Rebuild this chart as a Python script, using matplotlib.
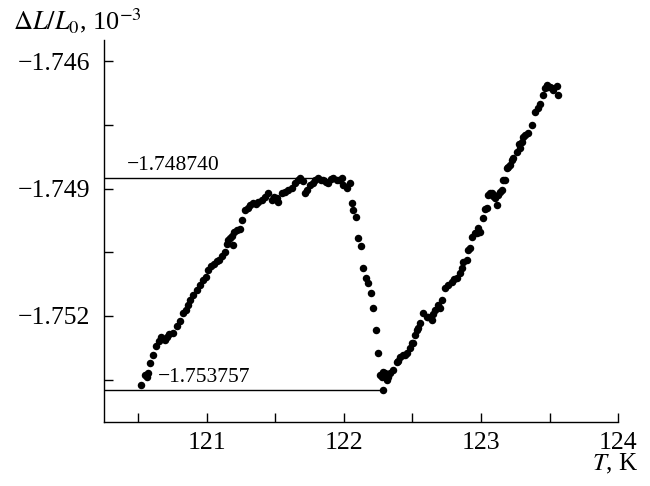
import matplotlib
matplotlib.use("Agg")
import matplotlib.pyplot as plt
from matplotlib.ticker import MultipleLocator, FuncFormatter

plt.rcParams['font.family'] = ['Liberation Serif', 'DejaVu Serif']
plt.rcParams['mathtext.fontset'] = 'stix'

# Temperature, K
T = [120.523, 120.547, 120.560, 120.569, 120.584, 120.604, 120.628, 120.652, 120.669, 120.693,
     120.706, 120.723, 120.750, 120.779, 120.803, 120.827, 120.847, 120.864, 120.876, 120.900,
     120.925, 120.949, 120.973, 120.993, 121.009, 121.034, 121.051, 121.071, 121.088, 121.107,
     121.131, 121.146, 121.153, 121.168, 121.180, 121.190, 121.197, 121.217, 121.241, 121.253,
     121.277, 121.299, 121.314, 121.336, 121.358, 121.372, 121.399, 121.423, 121.445, 121.472,
     121.489, 121.509, 121.518, 121.545, 121.569, 121.591, 121.618, 121.642, 121.664, 121.679,
     121.701, 121.715, 121.728, 121.752, 121.774, 121.788, 121.810, 121.832, 121.847, 121.869,
     121.883, 121.905, 121.920, 121.947, 121.964, 121.983, 121.993, 122.020, 122.044,
     122.056, 122.068, 122.088, 122.104, 122.122, 122.141, 122.161, 122.177, 122.195, 122.214,
     122.231, 122.246, 122.263, 122.282,
     122.275, 122.288, 122.299, 122.312, 122.321, 122.336, 122.360, 122.385, 122.396, 122.409,
     122.431, 122.445, 122.460, 122.482, 122.494, 122.506, 122.518, 122.531, 122.542, 122.555,
     122.579, 122.604, 122.615, 122.640, 122.650, 122.664, 122.688, 122.701, 122.715, 122.737,
     122.761, 122.786, 122.803, 122.823, 122.847, 122.859, 122.871, 122.896, 122.907, 122.920,
     122.932, 122.956, 122.969, 122.980, 122.993, 123.017, 123.029, 123.042, 123.053, 123.066,
     123.078, 123.088, 123.102, 123.115, 123.124, 123.139, 123.151, 123.163, 123.175, 123.188,
     123.197, 123.212, 123.224, 123.236, 123.261, 123.277, 123.285, 123.297, 123.307, 123.321,
     123.345, 123.370, 123.394, 123.418, 123.431, 123.455, 123.467, 123.480, 123.489, 123.504,
     123.516, 123.528, 123.553, 123.564]

# Relative elongation dL/L0, 10^-3
dL = [-1.75364, -1.75339, -1.75344, -1.75334, -1.75310, -1.75292, -1.75272, -1.75260, -1.75249, -1.75256,
      -1.75249, -1.75242, -1.75241, -1.75225, -1.75213, -1.75193, -1.75186, -1.75174, -1.75162, -1.75151,
      -1.75139, -1.75127, -1.75115, -1.75108, -1.75092, -1.75082, -1.75078, -1.75071, -1.75068, -1.75059,
      -1.75049, -1.75031, -1.75021, -1.75016, -1.75012, -1.75033, -1.75002, -1.74998, -1.74995, -1.74974,
      -1.74951, -1.74946, -1.74939, -1.74934, -1.74936, -1.74931, -1.74927, -1.74919, -1.74911, -1.74927,
      -1.74920, -1.74922, -1.74931, -1.74911, -1.74908, -1.74904, -1.74899, -1.74887, -1.74880, -1.74874,
      -1.74882, -1.74911, -1.74904, -1.74892, -1.74887, -1.74880, -1.74874, -1.74880, -1.74880, -1.74885,
      -1.74887, -1.74878, -1.74874, -1.74880, -1.74880, -1.74875, -1.74892, -1.74899, -1.74887,
      -1.74935, -1.74951, -1.74966, -1.75016, -1.75035, -1.75088, -1.75111, -1.75123, -1.75145, -1.75182,
      -1.75233, -1.75288, -1.75339, -1.753757,
      -1.75343, -1.75332, -1.75334, -1.75351, -1.75343, -1.75335, -1.75327, -1.75308, -1.75306, -1.75296,
      -1.75292, -1.75292, -1.75287, -1.75275, -1.75264, -1.75264, -1.75245, -1.75233, -1.75229, -1.75217,
      -1.75194, -1.75202, -1.75202, -1.75209, -1.75195, -1.75186, -1.75174, -1.75182, -1.75162, -1.75135,
      -1.75127, -1.75119, -1.75113, -1.75111, -1.75100, -1.75088, -1.75073, -1.75068, -1.75045, -1.75041,
      -1.75013, -1.75005, -1.75005, -1.74994, -1.75002, -1.74969, -1.74947, -1.74946, -1.74915, -1.74911,
      -1.74911, -1.74918, -1.74923, -1.74939, -1.74915, -1.74908, -1.74904, -1.74880, -1.74880, -1.74852,
      -1.74849, -1.74845, -1.74833, -1.74829, -1.74814, -1.74795, -1.74805, -1.74790, -1.74778, -1.74774,
      -1.74770, -1.74751, -1.74719, -1.74711, -1.74701, -1.74680, -1.74664, -1.74656, -1.74661, -1.74660,
      -1.74664, -1.74668, -1.74659, -1.74680]

ref_max = -1.748740
ref_min = -1.753757
ref_labels = ["\u22121.748740", "\u22121.753757"]

x_ticks_labeled = [121, 122, 123, 124]
y_ticks_labeled = [-1.746, -1.749, -1.752]

fig = plt.figure(figsize=(6.5, 4.86), dpi=100)
ax = fig.add_axes([0.16, 0.1317, 0.791, 0.786])

xmin, xmax = 120.25, 124.0
ax.set_xlim(xmin, xmax)
ax.set_ylim(-1.7545, -1.7455)

# reference lines from the axis to the extremum points
i_max = 59
i_min = dL.index(ref_min)
ax.plot([xmin, T[i_max] + 0.19], [ref_max, ref_max], color='black', lw=1.0, zorder=2)
ax.plot([xmin, T[i_min]], [ref_min, ref_min], color='black', lw=1.0, zorder=2)

ax.plot(T, dL, 'o', color='black', ms=5.4, mec='none', zorder=3)

ax.text(120.415, ref_max + 0.00007, ref_labels[0], fontsize=15.5, ha='left', va='bottom')
ax.text(120.64, ref_min + 0.00007, ref_labels[1], fontsize=15.5, ha='left', va='bottom')

for s in ['top', 'right']:
    ax.spines[s].set_visible(False)
for s in ['left', 'bottom']:
    ax.spines[s].set_linewidth(1.0)

ax.xaxis.set_major_locator(MultipleLocator(0.5))
ax.yaxis.set_major_locator(MultipleLocator(0.0015))

def xfmt(v, pos):
    r = round(v)
    return f"{r:d}" if abs(v - r) < 1e-6 and r in x_ticks_labeled else ""

def yfmt(v, pos):
    for t in y_ticks_labeled:
        if abs(v - t) < 1e-7:
            return f"{t:.3f}".replace('-', '\u2212')
    return ""

ax.xaxis.set_major_formatter(FuncFormatter(xfmt))
ax.yaxis.set_major_formatter(FuncFormatter(yfmt))
ax.tick_params(axis='both', direction='in', length=6.5, width=1.0, labelsize=18.5)
ax.tick_params(axis='y', pad=10)
ax.tick_params(axis='x', pad=7)

fig.text(0.020, 0.958, r'$\Delta L/L_0$, 10$^{-3}$', fontsize=19, ha='left', va='center')
fig.text(0.982, 0.045, r'$T$, K', fontsize=18, ha='right', va='center')

fig.savefig('out.png', dpi=100)
